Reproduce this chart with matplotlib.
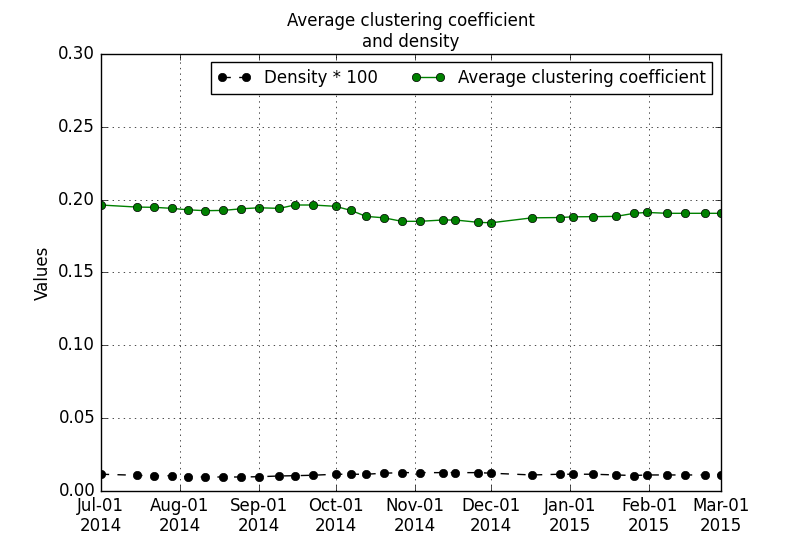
import datetime as dt
import matplotlib
matplotlib.use("Agg")
import matplotlib.pyplot as plt
import matplotlib.dates as mdates

plt.style.use('classic')

# Data
dates = ['2014-07-01', '2014-07-15', '2014-07-22', '2014-07-29', '2014-08-04',
         '2014-08-11', '2014-08-18', '2014-08-25', '2014-09-01', '2014-09-09',
         '2014-09-15', '2014-09-22', '2014-10-01', '2014-10-07', '2014-10-13',
         '2014-10-20', '2014-10-27', '2014-11-03', '2014-11-12', '2014-11-17',
         '2014-11-26', '2014-12-01', '2014-12-17', '2014-12-28', '2015-01-02',
         '2015-01-10', '2015-01-19', '2015-01-26', '2015-01-31', '2015-02-08',
         '2015-02-15', '2015-02-23', '2015-03-01']

density_x100 = [0.0115, 0.0108, 0.0103, 0.0105, 0.0096, 0.0096, 0.0096, 0.0096,
                0.0098, 0.0103, 0.0105, 0.0108, 0.0115, 0.0115, 0.0115, 0.0122,
                0.0126, 0.0126, 0.0126, 0.0126, 0.0126, 0.0122, 0.0110, 0.0115,
                0.0115, 0.0115, 0.0110, 0.0106, 0.0110, 0.0110, 0.0110, 0.0110,
                0.0110]

avg_clustering = [0.1963, 0.1949, 0.1947, 0.1940, 0.1930, 0.1924, 0.1926, 0.1937,
                  0.1944, 0.1940, 0.1963, 0.1963, 0.1954, 0.1926, 0.1885, 0.1875,
                  0.1851, 0.1851, 0.1860, 0.1860, 0.1844, 0.1841, 0.1875, 0.1877,
                  0.1882, 0.1883, 0.1885, 0.1906, 0.1912, 0.1906, 0.1906, 0.1906,
                  0.1906]

x = [dt.datetime.strptime(d, '%Y-%m-%d') for d in dates]

fig = plt.figure(figsize=(8, 5.47), dpi=100, facecolor='white')
ax = fig.add_axes([0.126, 0.1024, 0.775, 0.799])

ax.plot(x, density_x100, 'k--o', label='Density * 100')
ax.plot(x, avg_clustering, 'g-o', label='Average clustering coefficient')

ax.set_ylim(0, 0.30)
ax.set_xlim(dt.datetime(2014, 7, 1), dt.datetime(2015, 3, 1))
ax.xaxis.set_major_locator(mdates.MonthLocator())
ax.xaxis.set_major_formatter(mdates.DateFormatter('%b-%d\n%Y'))
ax.set_ylabel('Values')
ax.set_title('Average clustering coefficient\nand density', fontsize=12)
ax.grid(True)
ax.legend(loc='upper right', ncol=2, fontsize=12)

fig.savefig('out.png', dpi=100, facecolor='white')
